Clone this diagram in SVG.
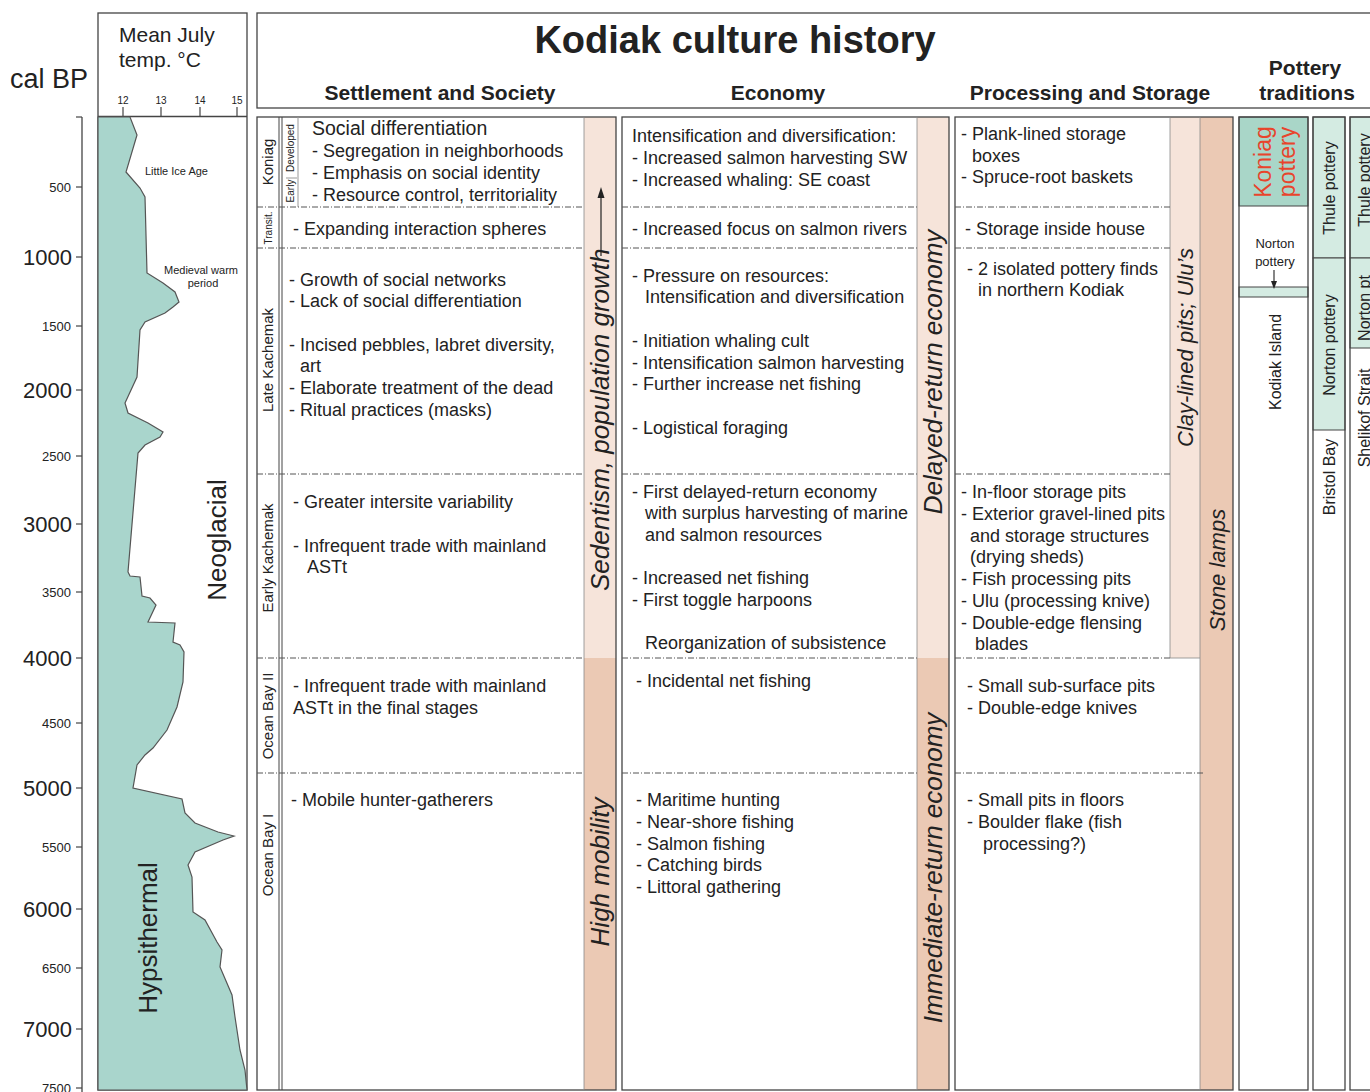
<svg xmlns="http://www.w3.org/2000/svg" width="1370" height="1092" viewBox="0 0 1370 1092">
<style>
text{font-family:"Liberation Sans",Arial,sans-serif;fill:#222}
.t{font-size:18px}
.h{font-size:21px;font-weight:bold}
.box{fill:none;stroke:#444;stroke-width:1.3}
.dd{stroke:#555;stroke-width:1;stroke-dasharray:6 2 1 2;fill:none}
.lt{fill:#f6e4da}
.dk{fill:#ebc9b4}
.band{font-size:26px;font-style:italic}
.per{font-size:15px}
.grn{fill:#d4ebe2;stroke:#444;stroke-width:1}
.ax{font-size:13px;text-anchor:end}
.axl{font-size:22px;text-anchor:end}
</style>
<rect width="1370" height="1092" fill="#fff"/>

<g id="axis">
<text x="10" y="88" font-size="27">cal BP</text>
<line x1="82" y1="117" x2="82" y2="1092" stroke="#444" stroke-width="1.3"/>
<g stroke="#444" stroke-width="1.2">
<line x1="76" y1="117" x2="82" y2="117"/><line x1="76" y1="187" x2="82" y2="187"/><line x1="76" y1="257" x2="82" y2="257"/><line x1="76" y1="326" x2="82" y2="326"/><line x1="76" y1="390" x2="82" y2="390"/><line x1="76" y1="456" x2="82" y2="456"/><line x1="76" y1="524" x2="82" y2="524"/><line x1="76" y1="592" x2="82" y2="592"/><line x1="76" y1="658" x2="82" y2="658"/><line x1="76" y1="723" x2="82" y2="723"/><line x1="76" y1="788" x2="82" y2="788"/><line x1="76" y1="847" x2="82" y2="847"/><line x1="76" y1="909" x2="82" y2="909"/><line x1="76" y1="968" x2="82" y2="968"/><line x1="76" y1="1029" x2="82" y2="1029"/><line x1="76" y1="1088" x2="82" y2="1088"/>
</g>
<text class="ax" x="71" y="192">500</text>
<text class="axl" x="72" y="265">1000</text>
<text class="ax" x="71" y="331">1500</text>
<text class="axl" x="72" y="398">2000</text>
<text class="ax" x="71" y="461">2500</text>
<text class="axl" x="72" y="532">3000</text>
<text class="ax" x="71" y="597">3500</text>
<text class="axl" x="72" y="666">4000</text>
<text class="ax" x="71" y="728">4500</text>
<text class="axl" x="72" y="796">5000</text>
<text class="ax" x="71" y="852">5500</text>
<text class="axl" x="72" y="917">6000</text>
<text class="ax" x="71" y="973">6500</text>
<text class="axl" x="72" y="1037">7000</text>
<text class="ax" x="71" y="1093">7500</text>
</g>

<g id="temperature">
<rect class="box" x="98" y="13" width="149" height="1077"/>
<line x1="98" y1="116.5" x2="247" y2="116.5" stroke="#444" stroke-width="1.3"/>
<text x="119" y="42" font-size="21">Mean July</text>
<text x="119" y="67" font-size="21">temp. °C</text>
<g font-size="10" text-anchor="middle">
<text x="123" y="104">12</text><text x="161" y="104">13</text><text x="200" y="104">14</text><text x="237" y="104">15</text>
</g>
<g stroke="#444" stroke-width="1.2">
<line x1="123" y1="107" x2="123" y2="116"/><line x1="161" y1="107" x2="161" y2="116"/><line x1="200" y1="107" x2="200" y2="116"/><line x1="237" y1="107" x2="237" y2="116"/>
</g>
<polygon fill="#a9d5cc" stroke="#555" stroke-width="1.2" points="98,117 130,117 137,135 126,172 140,188 145,197 147,273 163,283 175,292 179,302 173,307 165,313 145,322 140,330 137,377 125,403 128,413 148,423 163,432 160,437 145,445 138,453 128,572 130,576 140,577 142,596 150,598 156,605 148,622 175,623 173,642 180,645 184,652 183,682 177,707 167,730 153,748 145,755 137,765 133,788 182,799 185,813 195,823 218,832 234,836 223,840 195,852 188,865 192,877 193,912 205,920 217,942 222,950 220,967 232,995 235,1017 240,1050 245,1070 247,1090 98,1090"/>
<text x="145" y="175" font-size="11">Little Ice Age</text>
<text x="201" y="274" font-size="11" text-anchor="middle">Medieval warm</text>
<text x="203" y="287" font-size="11" text-anchor="middle">period</text>
<text transform="translate(226,540) rotate(-90)" font-size="26" text-anchor="middle">Neoglacial</text>
<text transform="translate(157,938) rotate(-90)" font-size="26" text-anchor="middle">Hypsithermal</text>
</g>

<g id="header">
<rect class="box" x="257" y="13" width="1120" height="95"/>
<text x="735" y="53" font-size="38" font-weight="bold" text-anchor="middle">Kodiak culture history</text>
<text class="h" x="440" y="100" text-anchor="middle">Settlement and Society</text>
<text class="h" x="778" y="100" text-anchor="middle">Economy</text>
<text class="h" x="1090" y="100" text-anchor="middle">Processing and Storage</text>
<text class="h" x="1305" y="75" text-anchor="middle">Pottery</text>
<text class="h" x="1307" y="100" text-anchor="middle">traditions</text>
</g>

<g id="settlement">
<rect class="lt" x="584" y="117" width="32" height="541"/>
<rect class="dk" x="584" y="658" width="32" height="432"/>
<rect class="box" x="257" y="117" width="359" height="973"/>
<line x1="279" y1="117" x2="279" y2="1090" stroke="#444" stroke-width="1"/>
<line x1="282" y1="117" x2="282" y2="1090" stroke="#444" stroke-width="1"/>
<line x1="298" y1="117" x2="298" y2="207" stroke="#999" stroke-width="1"/>
<line x1="584" y1="117" x2="584" y2="1090" stroke="#888" stroke-width="0.8"/>
<line x1="286" y1="178" x2="297" y2="178" stroke="#999" stroke-width="1"/>
<text class="per" transform="translate(273,162) rotate(-90)" text-anchor="middle">Koniag</text>
<text transform="translate(294,148) rotate(-90)" font-size="10" text-anchor="middle">Developed</text>
<text transform="translate(294,191) rotate(-90)" font-size="10" text-anchor="middle">Early</text>
<text transform="translate(272,228) rotate(-90)" font-size="10" text-anchor="middle">Transit.</text>
<text class="per" transform="translate(273,360) rotate(-90)" text-anchor="middle">Late Kachemak</text>
<text class="per" transform="translate(273,558) rotate(-90)" text-anchor="middle">Early Kachemak</text>
<text class="per" transform="translate(273,716) rotate(-90)" text-anchor="middle">Ocean Bay II</text>
<text class="per" transform="translate(273,855) rotate(-90)" text-anchor="middle">Ocean Bay I</text>
<text x="312" y="135" font-size="19.5">Social differentiation</text>
<text class="t" x="312" y="157">- Segregation in neighborhoods</text>
<text class="t" x="312" y="179">- Emphasis on social identity</text>
<text class="t" x="312" y="201">- Resource control, territoriality</text>
<text class="t" x="293" y="235">- Expanding interaction spheres</text>
<text class="t" x="289" y="286">- Growth of social networks</text>
<text class="t" x="289" y="307">- Lack of social differentiation</text>
<text class="t" x="289" y="351">- Incised pebbles, labret diversity,</text>
<text class="t" x="300" y="372">art</text>
<text class="t" x="289" y="394">- Elaborate treatment of the dead</text>
<text class="t" x="289" y="416">- Ritual practices (masks)</text>
<text class="t" x="293" y="508">- Greater intersite variability</text>
<text class="t" x="293" y="552">- Infrequent trade with mainland</text>
<text class="t" x="307" y="573">ASTt</text>
<text class="t" x="293" y="692">- Infrequent trade with mainland</text>
<text class="t" x="293" y="714">ASTt in the final stages</text>
<text class="t" x="291" y="806">- Mobile hunter-gatherers</text>
<text class="band" transform="translate(609,591) rotate(-90)" font-size="25">Sedentism, population growth</text>
<line x1="601" y1="256" x2="601" y2="196" stroke="#222" stroke-width="1.2"/>
<polygon points="601,187 597.5,198 604.5,198" fill="#222"/>
<text class="band" transform="translate(609,872) rotate(-90)" text-anchor="middle">High mobility</text>
</g>

<g id="economy">
<rect class="lt" x="917" y="117" width="32" height="541"/>
<rect class="dk" x="917" y="658" width="32" height="432"/>
<rect class="box" x="622" y="117" width="327" height="973"/>
<line x1="917" y1="117" x2="917" y2="1090" stroke="#888" stroke-width="0.8"/>
<text class="t" x="632" y="142">Intensification and diversification:</text>
<text class="t" x="632" y="164">- Increased salmon harvesting SW</text>
<text class="t" x="632" y="186">- Increased whaling: SE coast</text>
<text class="t" x="632" y="235">- Increased focus on salmon rivers</text>
<text class="t" x="632" y="282">- Pressure on resources:</text>
<text class="t" x="645" y="303">Intensification and diversification</text>
<text class="t" x="632" y="347">- Initiation whaling cult</text>
<text class="t" x="632" y="369">- Intensification salmon harvesting</text>
<text class="t" x="632" y="390">- Further increase net fishing</text>
<text class="t" x="632" y="434">- Logistical foraging</text>
<text class="t" x="632" y="498">- First delayed-return economy</text>
<text class="t" x="645" y="519">with surplus harvesting of marine</text>
<text class="t" x="645" y="541">and salmon resources</text>
<text class="t" x="632" y="584">- Increased net fishing</text>
<text class="t" x="632" y="606">- First toggle harpoons</text>
<text class="t" x="645" y="649">Reorganization of subsistence</text>
<text class="t" x="636" y="687">- Incidental net fishing</text>
<text class="t" x="636" y="806">- Maritime hunting</text>
<text class="t" x="636" y="828">- Near-shore fishing</text>
<text class="t" x="636" y="850">- Salmon fishing</text>
<text class="t" x="636" y="871">- Catching birds</text>
<text class="t" x="636" y="893">- Littoral gathering</text>
<text class="band" transform="translate(942,372) rotate(-90)" text-anchor="middle">Delayed-return economy</text>
<text class="band" transform="translate(942,868) rotate(-90)" text-anchor="middle">Immediate-return economy</text>
</g>

<g id="processing">
<rect class="lt" x="1170" y="117" width="30" height="541"/>
<rect class="dk" x="1200" y="117" width="33" height="973"/>
<rect class="box" x="955" y="117" width="278" height="973"/>
<line x1="1170" y1="117" x2="1170" y2="658" stroke="#888" stroke-width="0.8"/>
<line x1="1200" y1="117" x2="1200" y2="1090" stroke="#888" stroke-width="0.8"/>
<line x1="1170" y1="658" x2="1200" y2="658" stroke="#888" stroke-width="0.8"/>
<text class="t" x="961" y="140">- Plank-lined storage</text>
<text class="t" x="972" y="162">boxes</text>
<text class="t" x="961" y="183">- Spruce-root baskets</text>
<text class="t" x="965" y="235">- Storage inside house</text>
<text class="t" x="967" y="275">- 2 isolated pottery finds</text>
<text class="t" x="978" y="296">in northern Kodiak</text>
<text class="t" x="961" y="498">- In-floor storage pits</text>
<text class="t" x="961" y="520">- Exterior gravel-lined pits</text>
<text class="t" x="970" y="542">and storage structures</text>
<text class="t" x="970" y="563">(drying sheds)</text>
<text class="t" x="961" y="585">- Fish processing pits</text>
<text class="t" x="961" y="607">- Ulu (processing knive)</text>
<text class="t" x="961" y="629">- Double-edge flensing</text>
<text class="t" x="975" y="650">blades</text>
<text class="t" x="967" y="692">- Small sub-surface pits</text>
<text class="t" x="967" y="714">- Double-edge knives</text>
<text class="t" x="967" y="806">- Small pits in floors</text>
<text class="t" x="967" y="828">- Boulder flake (fish</text>
<text class="t" x="983" y="850">processing?)</text>
<text transform="translate(1193,447) rotate(-90)" font-size="22" font-style="italic">Clay-lined pits; Ulu’s</text>
<text transform="translate(1225,570) rotate(-90)" font-size="22" font-style="italic" text-anchor="middle">Stone lamps</text>
</g>

<g id="dividers">
<line class="dd" x1="257" y1="207" x2="584" y2="207"/>
<line class="dd" x1="257" y1="248" x2="584" y2="248"/>
<line class="dd" x1="257" y1="474" x2="584" y2="474"/>
<line class="dd" x1="257" y1="658" x2="584" y2="658"/>
<line class="dd" x1="257" y1="773" x2="584" y2="773"/>
<line class="dd" x1="622" y1="207" x2="917" y2="207"/>
<line class="dd" x1="622" y1="248" x2="917" y2="248"/>
<line class="dd" x1="622" y1="474" x2="917" y2="474"/>
<line class="dd" x1="622" y1="658" x2="917" y2="658"/>
<line class="dd" x1="622" y1="773" x2="917" y2="773"/>
<line class="dd" x1="955" y1="207" x2="1170" y2="207"/>
<line class="dd" x1="955" y1="248" x2="1170" y2="248"/>
<line class="dd" x1="955" y1="474" x2="1170" y2="474"/>
<line class="dd" x1="955" y1="658" x2="1170" y2="658"/>
<line class="dd" x1="955" y1="773" x2="1205" y2="773"/>
</g>

<g id="pottery-kodiak">
<rect x="1239" y="117" width="69" height="89" fill="#a9d6c8" stroke="#444" stroke-width="1"/>
<rect x="1239" y="287" width="69" height="10" fill="#d4ebe2" stroke="#444" stroke-width="1"/>
<rect class="box" x="1239" y="117" width="69" height="973"/>
<text transform="translate(1271,162) rotate(-90)" font-size="23" text-anchor="middle" style="fill:#e8442c">Koniag</text>
<text transform="translate(1295,162) rotate(-90)" font-size="23" text-anchor="middle" style="fill:#e8442c">pottery</text>
<text x="1275" y="248" font-size="13" text-anchor="middle">Norton</text>
<text x="1275" y="266" font-size="13" text-anchor="middle">pottery</text>
<line x1="1274" y1="270" x2="1274" y2="282" stroke="#222" stroke-width="1.1"/>
<polygon points="1274,289 1271,281 1277,281" fill="#222"/>
<text transform="translate(1281,362) rotate(-90)" font-size="16" text-anchor="middle">Kodiak Island</text>
</g>

<g id="pottery-bristol">
<rect class="grn" x="1313" y="117" width="32" height="141"/>
<rect class="grn" x="1313" y="258" width="32" height="172"/>
<rect class="box" x="1313" y="117" width="32" height="973"/>
<text transform="translate(1335,188) rotate(-90)" font-size="16" text-anchor="middle">Thule pottery</text>
<text transform="translate(1335,345) rotate(-90)" font-size="16" text-anchor="middle">Norton pottery</text>
<text transform="translate(1335,477) rotate(-90)" font-size="16" text-anchor="middle">Bristol Bay</text>
</g>

<g id="pottery-shelikof">
<rect class="grn" x="1350" y="117" width="32" height="141"/>
<rect class="grn" x="1350" y="258" width="32" height="90"/>
<rect class="box" x="1350" y="117" width="32" height="973"/>
<text transform="translate(1370,180) rotate(-90)" font-size="16" text-anchor="middle">Thule pottery</text>
<text transform="translate(1370,308) rotate(-90)" font-size="16" text-anchor="middle">Norton pt</text>
<text transform="translate(1370,418) rotate(-90)" font-size="16" text-anchor="middle">Shelikof  Strait</text>
</g>
</svg>
